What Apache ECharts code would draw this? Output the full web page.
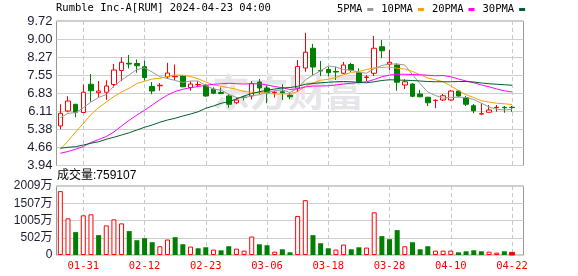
<!DOCTYPE html>
<html><head><meta charset="utf-8">
<script src="https://cdn.jsdelivr.net/npm/echarts@6/dist/echarts.min.js"></script>
<style>html,body{margin:0;padding:0;background:#fff}#c{width:578px;height:276px}</style>
</head><body><div id="c"></div>
<script>
const titleText = 'Rumble Inc-A[RUM] 2024-04-23 04:00';
const volTitle = '成交量:759107';
const dates = ['01-26','01-29','01-30','01-31','02-01','02-02','02-05','02-06','02-07','02-08',
  '02-09','02-12','02-13','02-14','02-15','02-16','02-20','02-21','02-22','02-23',
  '02-26','02-27','02-28','02-29','03-01','03-04','03-05','03-06','03-07','03-08',
  '03-11','03-12','03-13','03-14','03-15','03-18','03-19','03-20','03-21','03-22',
  '03-25','03-26','03-27','03-28','04-01','04-02','04-03','04-04','04-05','04-08',
  '04-09','04-10','04-11','04-12','04-15','04-16','04-17','04-18','04-19','04-22'];
const opens = [5.52,6.12,6.39,6.06,7.19,6.85,6.87,7.18,7.74,8.03,
  8.02,7.89,7.10,7.13,7.49,7.49,7.52,7.06,7.17,7.12,
  6.99,6.86,6.72,6.45,6.68,6.72,7.28,7.04,6.85,6.89,
  6.75,7.04,7.84,8.63,7.74,7.78,7.70,7.63,7.98,7.65,
  7.46,7.63,8.69,7.99,7.96,7.16,7.20,6.80,6.67,6.54,
  6.56,6.56,6.92,6.65,6.33,6.00,6.07,6.26,6.27,6.27];
const closes = [6.03,6.52,6.07,6.87,6.93,6.92,7.12,7.76,8.07,8.00,
  7.93,7.46,6.92,7.15,7.64,7.51,7.09,7.20,7.18,6.72,
  6.83,6.82,6.39,6.56,6.66,7.22,7.04,6.86,6.87,6.85,
  6.69,7.90,8.47,7.88,7.72,7.65,7.68,7.96,7.76,7.29,
  7.48,8.63,8.53,8.07,7.27,7.29,6.71,6.69,6.45,6.55,
  6.73,6.92,6.72,6.39,6.13,6.01,6.16,6.27,6.25,6.26];
const lows = [5.39,6.07,5.87,6.04,6.49,6.67,6.57,7.06,7.32,7.82,
  7.65,7.34,6.79,6.93,7.40,7.36,7.07,6.93,7.07,6.69,
  6.79,6.80,6.25,6.39,6.54,6.58,6.80,6.43,6.66,6.56,
  6.59,6.88,7.69,7.56,7.52,7.50,7.36,7.60,7.68,7.23,
  7.32,7.52,8.23,7.76,6.93,7.00,6.67,6.67,6.32,6.23,
  6.52,6.53,6.69,6.32,6.03,5.96,6.06,6.09,6.05,6.09];
const highs = [6.39,6.71,6.40,7.18,7.60,7.32,7.35,8.00,8.27,8.36,
  8.18,8.14,7.28,7.24,8.05,7.98,7.56,7.31,7.31,7.19,
  7.07,7.06,6.79,6.66,6.73,7.32,7.40,7.14,6.92,7.19,
  6.85,8.16,9.25,8.80,8.12,7.88,7.88,8.08,8.04,7.83,
  7.56,9.12,8.96,8.56,8.03,7.39,7.23,6.96,6.69,6.59,
  6.80,6.96,6.96,6.72,6.40,6.43,6.36,6.36,6.32,6.32];
// volume in 万 shares
const volumes = [1860,1067,666,1155,1185,578,862,1038,921,696,
  431,490,372,255,451,519,313,245,196,225,
  157,137,255,186,127,539,313,284,98,166,
  78,1137,1597,578,343,196,157,304,166,225,
  216,1244,549,461,725,255,372,166,255,127,
  127,127,78,108,137,108,98,68,108,75.9107];
const ma5 = [5.85,6.03,6.05,6.25,6.48,6.66,6.78,7.12,7.36,7.57,
  7.78,7.84,7.68,7.49,7.42,7.34,7.26,7.32,7.32,7.14,
  7.00,6.95,6.79,6.66,6.65,6.73,6.77,6.87,6.93,6.97,
  6.86,7.03,7.36,7.56,7.73,7.92,7.88,7.78,7.75,7.67,
  7.63,7.82,7.94,8.00,8.00,7.96,7.57,7.21,6.88,6.74,
  6.63,6.67,6.67,6.66,6.58,6.43,6.28,6.19,6.16,6.19];
const ma10 = [4.59,4.92,5.28,5.62,5.98,6.25,6.48,6.70,6.88,7.03,
  7.22,7.31,7.40,7.43,7.50,7.56,7.55,7.50,7.41,7.28,
  7.17,7.11,7.05,6.99,6.90,6.87,6.86,6.83,6.80,6.81,
  6.80,6.90,7.11,7.24,7.35,7.39,7.46,7.57,7.66,7.70,
  7.78,7.85,7.86,7.88,7.83,7.80,7.70,7.57,7.44,7.37,
  7.29,7.12,6.94,6.77,6.66,6.53,6.48,6.43,6.41,6.38];
const ma20 = [4.43,4.50,4.59,4.70,4.86,4.98,5.10,5.28,5.52,5.75,
  5.96,6.15,6.36,6.57,6.76,6.90,6.99,7.05,7.10,7.15,
  7.19,7.21,7.23,7.21,7.20,7.21,7.21,7.16,7.10,7.05,
  6.98,7.01,7.08,7.12,7.12,7.13,7.16,7.20,7.23,7.26,
  7.29,7.38,7.49,7.56,7.59,7.59,7.58,7.57,7.55,7.53,
  7.54,7.49,7.40,7.32,7.25,7.16,7.09,7.00,6.93,6.88];
const ma30 = [4.63,4.67,4.69,4.76,4.83,4.89,4.99,5.07,5.16,5.25,
  5.36,5.47,5.56,5.67,5.76,5.83,5.92,6.00,6.09,6.23,
  6.32,6.43,6.49,6.60,6.72,6.82,6.89,6.95,7.00,7.04,
  7.06,7.11,7.19,7.22,7.25,7.27,7.29,7.30,7.29,7.26,
  7.25,7.29,7.34,7.37,7.36,7.35,7.34,7.32,7.30,7.29,
  7.29,7.29,7.30,7.30,7.28,7.24,7.21,7.19,7.17,7.15];
const priceTicks = ['3.94','4.66','5.38','6.11','6.83','7.55','8.27','9.00','9.72'];
const volTicks = ['0','502万','1005万','1507万','2009万'];
const maNames = ['5PMA','10PMA','20PMA','30PMA'];

const RED = '#ff0000', GREEN = '#008000';
const cats = dates.concat(['']);
const pMin = parseFloat(priceTicks[0]), pMax = parseFloat(priceTicks[priceTicks.length-1]);
const pInt = (pMax - pMin) / (priceTicks.length - 1);
const vMax = parseFloat(volTicks[volTicks.length-1]);
const vInt = vMax / (volTicks.length - 1);
const showIdx = (i) => i % 8 === 3;
const mono = 'DejaVu Sans Mono';

const kData = opens.map((o, i) => [o, closes[i], lows[i], highs[i]]);
const volData = volumes.map((v, i) => {
  const prev = i === 0 ? opens[0] : closes[i-1];
  const up = closes[i] >= prev;
  let st;
  if (i === volumes.length - 1) st = {color: RED, borderColor: RED};
  else if (up) st = {color: '#fff', borderColor: RED, borderWidth: 1};
  else st = {color: GREEN, borderColor: GREEN, borderWidth: 0};
  return {value: v, itemStyle: st};
});

const gridCommon = {left: 56.5, width: 467, show: true, borderColor: '#999', borderWidth: 1};
const xCommon = {
  type: 'category', data: cats, boundaryGap: true,
  axisLine: {show: false}, axisTick: {show: false},
  splitLine: {show: true, interval: (i) => showIdx(i), alignWithLabel: true,
    lineStyle: {color: '#c8c8c8', type: [4, 3], width: 1}}
};
const lineColors = ['#999999', '#f5a300', '#ff00ff', '#00602b'];
const mas = [ma5, ma10, ma20, ma30];

const chart = echarts.init(document.getElementById('c'), null, {renderer: 'canvas'});
chart.setOption({
  animation: false,
  backgroundColor: '#fff',
  title: [
    {text: titleText, left: 56, top: 3, padding: 0,
      textStyle: {fontFamily: mono, fontSize: 10.5, fontWeight: 'normal', color: '#000'}},
    {text: volTitle, left: 57, top: 170, padding: 0,
      textStyle: {fontFamily: '"Liberation Sans","Noto Sans CJK SC"', fontSize: 12, fontWeight: 'normal', color: '#000'}}
  ],
  legend: {
    data: maNames, left: 337, top: 4, padding: 0, align: 'right', icon: 'rect',
    itemWidth: 6, itemHeight: 3, itemGap: 8, selectedMode: false,
    textStyle: {fontFamily: mono, fontSize: 10.5, color: '#000'}
  },
  graphic: [{
    type: 'text', left: 212, top: 73, z: 1, silent: true,
    style: {text: '东方财富', font: 'bold 38px "Noto Sans CJK SC"', fill: '#e6e6ea'}
  }],
  grid: [
    Object.assign({top: 21, height: 144.5}, gridCommon),
    Object.assign({top: 186, height: 69}, gridCommon)
  ],
  xAxis: [
    Object.assign({gridIndex: 0, axisLabel: {show: false}}, xCommon),
    Object.assign({gridIndex: 1, axisLabel: {show: true, interval: (i) => showIdx(i), margin: 6,
      color: RED, fontFamily: mono, fontSize: 10.5}}, xCommon)
  ],
  yAxis: [
    {gridIndex: 0, type: 'value', min: pMin, max: pMax, interval: pInt,
      axisLine: {show: false}, axisTick: {show: false},
      axisLabel: {margin: 4, fontSize: 13, color: '#1a1a33', fontFamily: 'Liberation Sans',
        formatter: (v) => priceTicks[Math.round((v - pMin) / pInt)]},
      splitLine: {lineStyle: {color: '#cfcfcf'}}},
    {gridIndex: 1, type: 'value', min: 0, max: vMax, interval: vInt,
      axisLine: {show: false}, axisTick: {show: false},
      axisLabel: {margin: 4, fontSize: 12, color: '#1a1a33', fontFamily: '"Liberation Sans","Noto Sans CJK SC"',
        formatter: (v) => volTicks[Math.round(v / vInt)]},
      splitLine: {lineStyle: {color: '#cfcfcf'}}}
  ],
  series: [
    {type: 'candlestick', xAxisIndex: 0, yAxisIndex: 0, data: kData, barWidth: 5,
      itemStyle: {color: '#fff', color0: GREEN, borderColor: RED, borderColor0: GREEN, borderWidth: 1}},
    ...maNames.map((n, k) => ({
      name: n, type: 'line', xAxisIndex: 0, yAxisIndex: 0, data: mas[k],
      symbol: 'none', smooth: false, itemStyle: {color: lineColors[k]},
      lineStyle: {color: lineColors[k], width: 1}
    })),
    {type: 'bar', xAxisIndex: 1, yAxisIndex: 1, data: volData, barWidth: 5}
  ]
});
</script></body></html>
